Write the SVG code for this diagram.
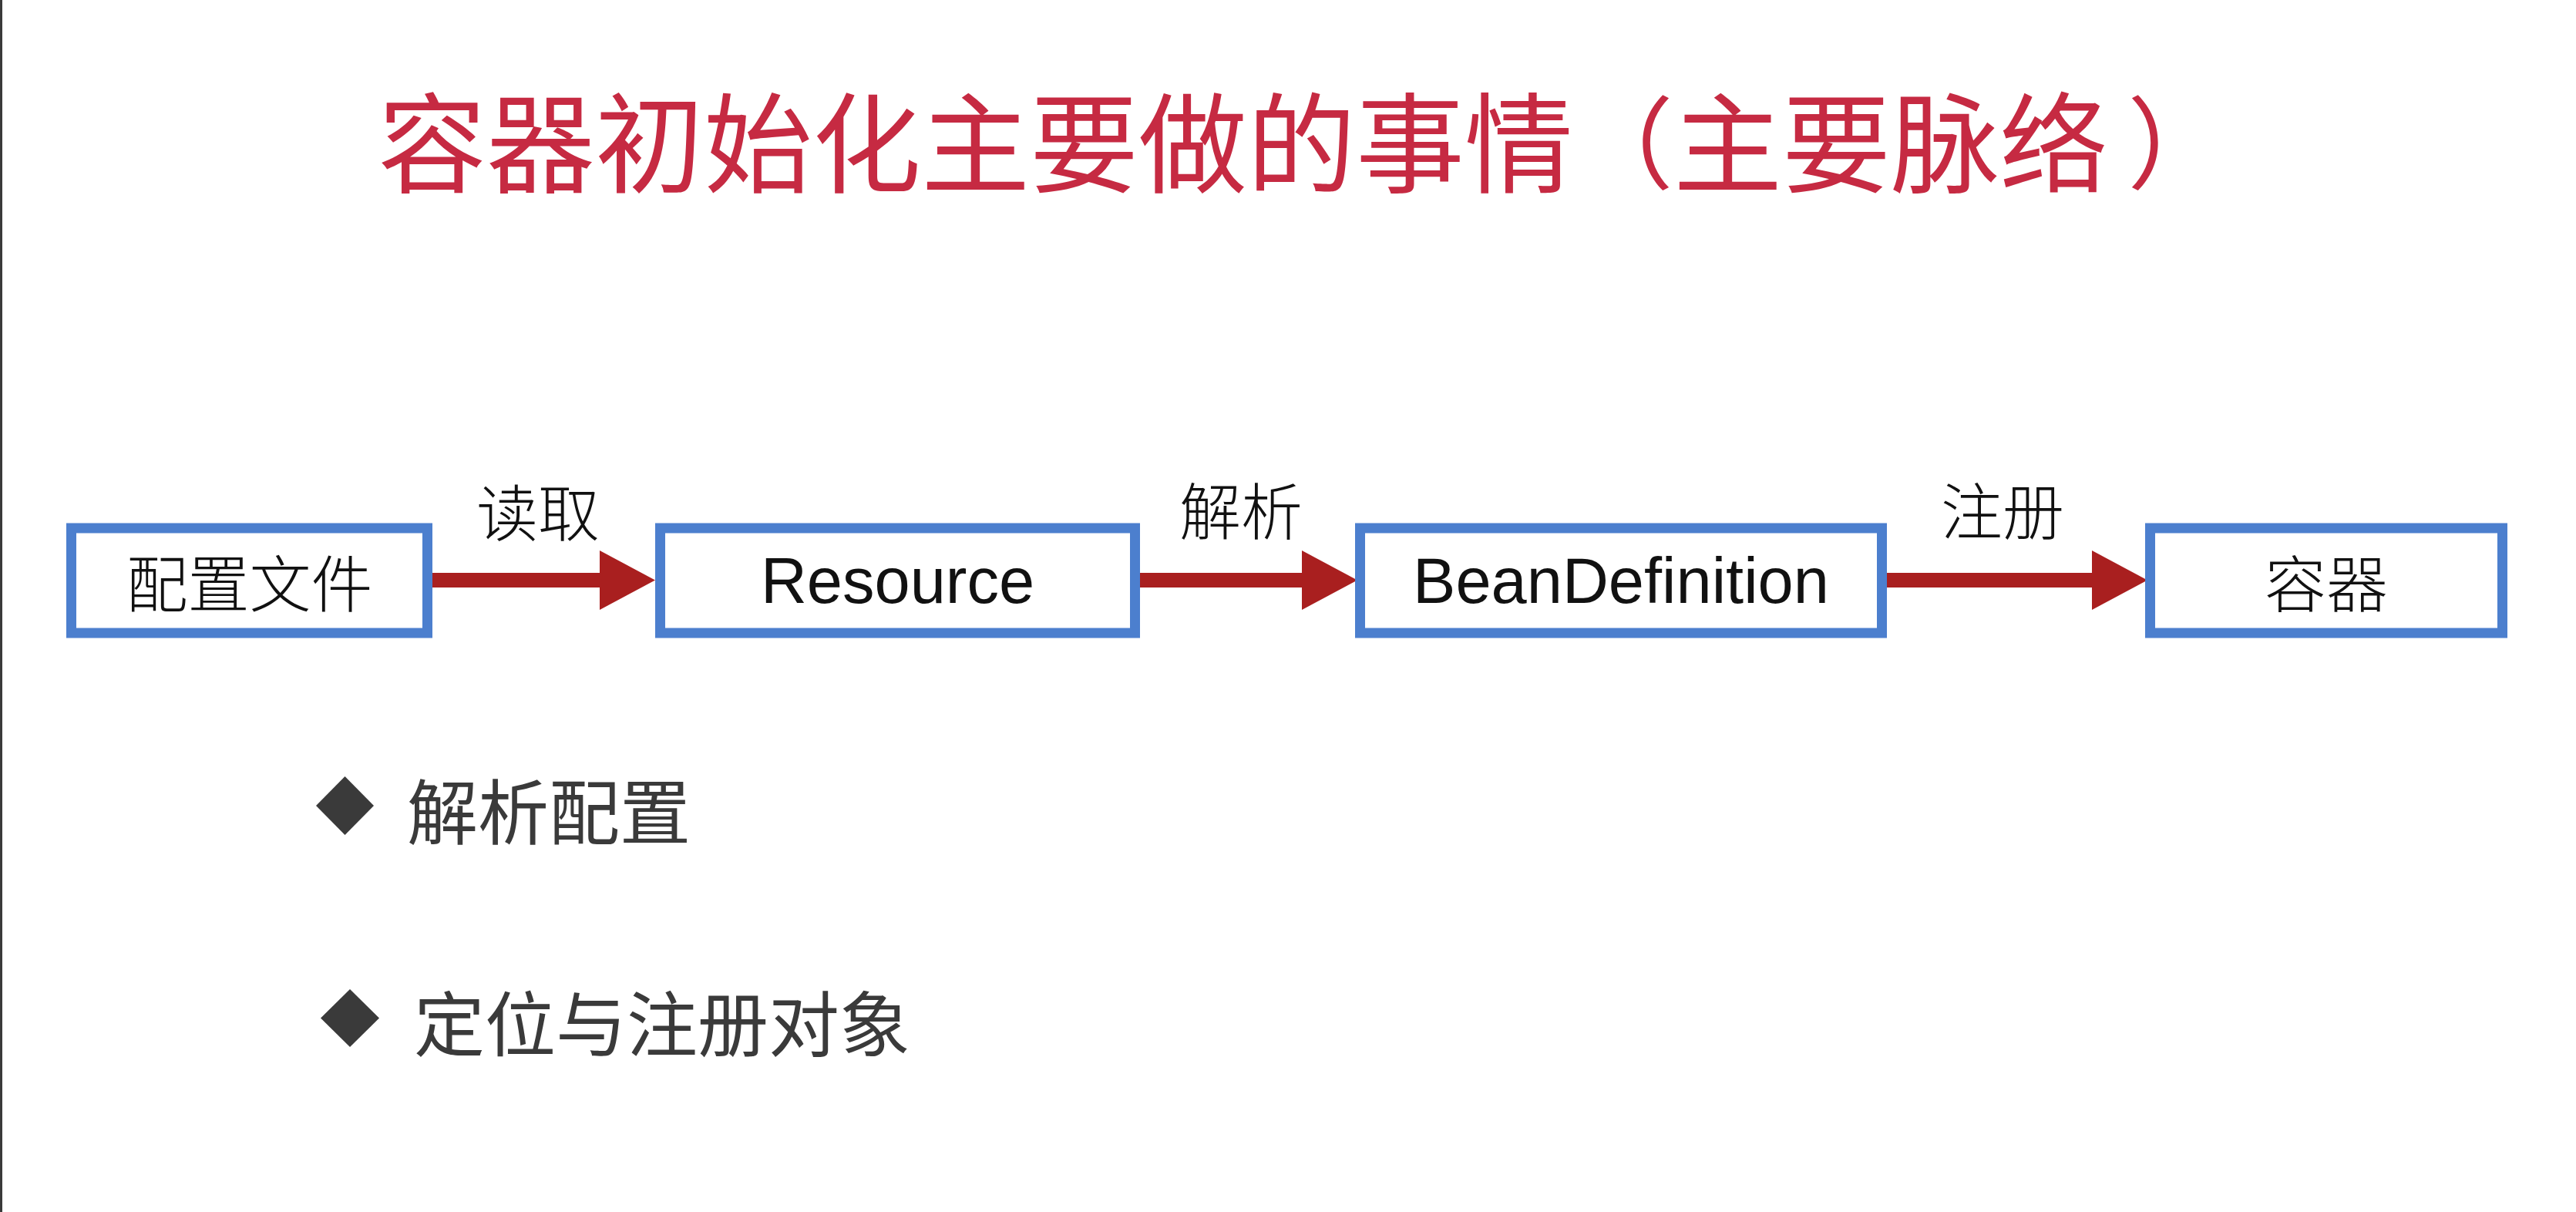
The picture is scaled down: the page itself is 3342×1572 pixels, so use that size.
<svg xmlns="http://www.w3.org/2000/svg" width="3342" height="1572" viewBox="0 0 3342 1572">
<defs>
<style>
.title{font-family:"Noto Sans CJK SC","Noto Sans",sans-serif;font-size:141px;fill:#C62A42;dominant-baseline:central}
.par{font-family:"Noto Sans CJK TC","Noto Sans CJK SC",sans-serif;font-size:130px}
.box{fill:#fff;stroke:#4C7FCE;stroke-width:13}
.cjk{font-family:"Noto Sans CJK SC",sans-serif;font-size:80px;font-weight:300;fill:#111;text-anchor:middle;dominant-baseline:central}
.lat{font-family:"Liberation Sans",Arial,sans-serif;font-size:83px;fill:#111;text-anchor:middle}
.lbl{font-family:"Noto Sans CJK SC",sans-serif;font-size:80px;font-weight:300;fill:#111;text-anchor:middle;dominant-baseline:central}
.conn{stroke:#A91F1F;stroke-width:19;fill:none;marker-end:url(#ah)}
.bul{font-family:"Noto Sans CJK SC",sans-serif;font-size:92px;fill:#3A3A3A;dominant-baseline:central}
.dia{fill:#3A3A3A}
</style>
<marker id="ah" markerUnits="userSpaceOnUse" viewBox="0 0 72 77" refX="0" refY="38.5" markerWidth="72" markerHeight="77" orient="auto">
<path d="M0,0 L72,38.5 L0,77 z" fill="#A91F1F"/>
</marker>
</defs>
<rect x="0" y="0" width="3342" height="1572" fill="#fff"/>
<line x1="1.5" y1="0" x2="1.5" y2="1572" stroke="#3a3a3a" stroke-width="3"/>
<g id="title">
<text class="title" x="490" y="177">容器初始化主要做的事情<tspan class="par">（</tspan>主要脉络<tspan class="par" dx="25">）</tspan></text>
</g>
<g id="connectors">
<path class="conn" d="M561,752.5 L778,752.5"/>
<path class="conn" d="M1479,752.5 L1689,752.5"/>
<path class="conn" d="M2448,752.5 L2714,752.5"/>
<text class="lbl" x="698" y="660">读取</text>
<text class="lbl" x="1610" y="658">解析</text>
<text class="lbl" x="2598" y="658">注册</text>
</g>
<g id="node-config">
<rect class="box" x="92.5" y="685" width="462" height="136"/>
<text class="cjk" x="323.5" y="752">配置文件</text>
</g>
<g id="node-resource">
<rect class="box" x="856.5" y="685" width="616" height="136"/>
<text class="lat" x="1164.5" y="782">Resource</text>
</g>
<g id="node-beandefinition">
<rect class="box" x="1764.5" y="685" width="677" height="136"/>
<text class="lat" x="2103" y="782">BeanDefinition</text>
</g>
<g id="node-container">
<rect class="box" x="2789.5" y="685" width="457" height="136"/>
<text class="cjk" x="3018" y="752">容器</text>
</g>
<g id="bullets">
<polygon class="dia" points="447.5,1007 485,1045 447.5,1083 410,1045"/>
<text class="bul" x="528" y="1047">解析配置</text>
<polygon class="dia" points="454,1283 492,1320.5 454,1358 416,1320.5"/>
<text class="bul" x="537" y="1322">定位与注册对象</text>
</g>
</svg>
